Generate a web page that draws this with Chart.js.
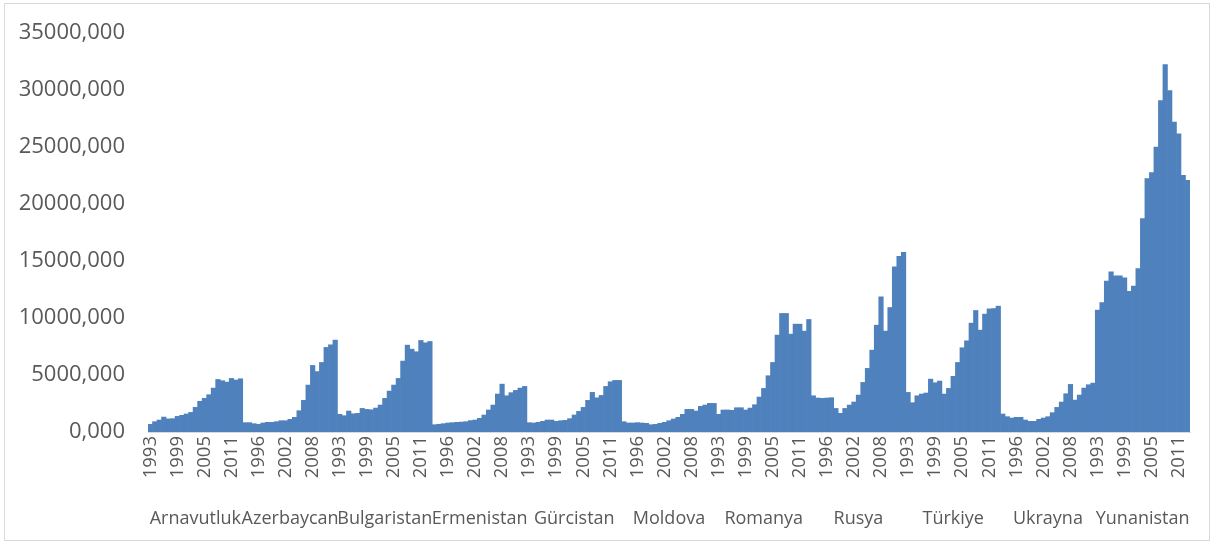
<!DOCTYPE html>
<html>
<head>
<meta charset="utf-8">
<script src="https://cdn.jsdelivr.net/npm/chart.js@4/dist/chart.umd.min.js"></script>
<style>
html,body{margin:0;padding:0;background:#fff;}
#wrap{position:relative;width:1214px;height:545px;}
</style>
</head>
<body>
<div id="wrap"><canvas id="c" width="1214" height="545"></canvas></div>
<script>
const countries = ['Arnavutluk','Azerbaycan','Bulgaristan','Ermenistan','Gürcistan','Moldova','Romanya','Rusya','Türkiye','Ukrayna','Yunanistan'];
const years = ['1993','1994','1995','1996','1997','1998','1999','2000','2001','2002','2003','2004','2005','2006','2007','2008','2009','2010','2011','2012','2013'];

const arnavutluk = [670, 905, 1050, 1310, 1150, 1170, 1370, 1460, 1580, 1720, 2160, 2690, 2950, 3270, 3850, 4610, 4500, 4380, 4700, 4560, 4670];
const azerbaycan = [820, 820, 730, 670, 790, 850, 850, 905, 990, 990, 1110, 1285, 1870, 2775, 4117, 5840, 5300, 6100, 7420, 7650, 8060];
const bulgaristan = [1550, 1430, 1840, 1600, 1635, 2070, 1985, 1950, 2100, 2365, 2950, 3590, 4117, 4700, 6220, 7620, 7270, 7040, 8030, 7825, 7940];
const ermenistan = [640, 680, 730, 790, 820, 850, 870, 905, 1000, 1050, 1200, 1490, 1930, 2365, 3330, 4200, 3180, 3450, 3650, 3850, 4000];
const gurcistan = [818, 790, 850, 935, 1050, 1050, 935, 990, 1020, 1170, 1490, 1810, 2160, 2775, 3475, 3000, 3210, 4000, 4410, 4526, 4526];
const moldova = [905, 790, 790, 818, 790, 760, 640, 670, 760, 847, 990, 1140, 1285, 1550, 1985, 1985, 1840, 2250, 2365, 2510, 2510];
const romanya = [1550, 1930, 1930, 1900, 2130, 2130, 1930, 2100, 2394, 3066, 3825, 4935, 6100, 8500, 10400, 10400, 8585, 9460, 9460, 8850, 9870];
const rusya = [3180, 2980, 2950, 2980, 3010, 2070, 1635, 2070, 2365, 2630, 3240, 4350, 5580, 7180, 9370, 11855, 8850, 10920, 14480, 15420, 15770];
const turkiye = [3475, 2570, 3180, 3330, 3420, 4640, 4320, 4470, 3330, 3825, 4880, 6100, 7390, 8000, 9550, 10660, 8935, 10340, 10800, 10830, 11040];
const ukrayna = [1577, 1343, 1226, 1285, 1285, 1050, 934, 934, 1110, 1226, 1343, 1694, 2160, 2628, 3358, 4175, 2800, 3240, 3854, 4146, 4290];
const yunanistan = [10690, 11360, 13230, 14050, 13700, 13700, 13520, 12350, 12790, 14340, 18720, 22220, 22750, 25000, 29080, 32240, 29960, 27190, 26160, 22510, 22080];

const seriesByCountry = [arnavutluk, azerbaycan, bulgaristan, ermenistan, gurcistan, moldova, romanya, rusya, turkiye, ukrayna, yunanistan];
const yearLabels = countries.flatMap(() => years);
const values = seriesByCountry.flat();

const textColor = '#595959';
const fontFamily = '"Open Sans", "Liberation Sans", sans-serif';

const borderPlugin = {
  id: 'frame',
  beforeDraw(chart) {
    const ctx = chart.ctx;
    ctx.save();
    ctx.fillStyle = '#ffffff';
    ctx.fillRect(0, 0, chart.width, chart.height);
    ctx.strokeStyle = '#d9d9d9';
    ctx.lineWidth = 1;
    ctx.strokeRect(4.5, 3.5, 1205, 537);
    ctx.restore();
  }
};

new Chart(document.getElementById('c'), {
  type: 'bar',
  data: {
    labels: yearLabels,
    datasets: [{
      data: values,
      backgroundColor: '#4F81BD',
      borderWidth: 0,
      barPercentage: 1.0,
      categoryPercentage: 1.0
    }]
  },
  options: {
    responsive: false,
    animation: false,
    layout: { padding: { left: 0, right: 24, top: 33, bottom: 0 } },
    plugins: { legend: { display: false }, tooltip: { enabled: false } },
    scales: {
      y: {
        min: 0, max: 35000,
        grid: { display: false },
        border: { display: false },
        ticks: {
          stepSize: 5000,
          padding: 15,
          color: textColor,
          font: { family: fontFamily, size: 22 },
          callback: v => Number(v).toFixed(3).replace('.', ',')
        },
        afterFit(scale) { scale.width = 148; }
      },
      x: {
        type: 'category',
        offset: true,
        weight: 0,
        grid: { display: false, drawTicks: false },
        border: { display: true, color: '#d9d9d9' },
        ticks: {
          autoSkip: false,
          minRotation: 90,
          maxRotation: 90,
          padding: 4,
          color: textColor,
          font: { family: fontFamily, size: 18.5 },
          callback: function(v, i) { return i % 6 === 0 ? this.getLabelForValue(v) : ''; }
        },
        afterFit(scale) { scale.height = 62; }
      },
      x2: {
        type: 'category',
        labels: countries,
        offset: true,
        position: 'bottom',
        weight: 1,
        grid: { display: false, drawTicks: false },
        border: { display: false },
        ticks: {
          autoSkip: false,
          minRotation: 0,
          maxRotation: 0,
          padding: 14,
          color: textColor,
          font: { family: fontFamily, size: 18 }
        },
        afterFit(scale) { scale.height = 51; }
      }
    }
  },
  plugins: [borderPlugin]
});
</script>
</body>
</html>
